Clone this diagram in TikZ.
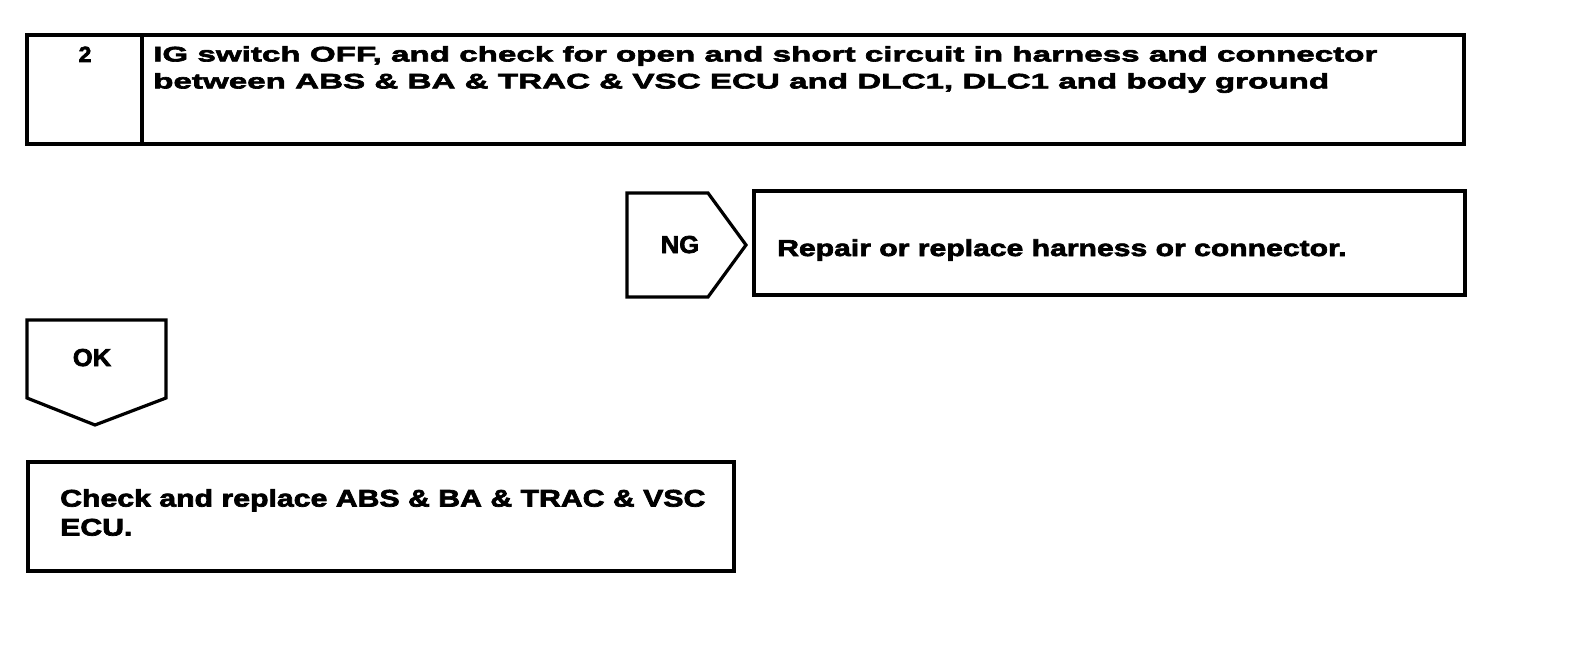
\documentclass[tikz,border=0pt]{standalone}
\usepackage{fontspec}
\newfontfamily\headfont{Liberation Sans}[FakeStretch=1.58, FakeBold=3]
\newfontfamily\repairfont{Liberation Sans}[FakeStretch=1.31, FakeBold=3]
\newfontfamily\ecufont{Liberation Sans}[FakeStretch=1.26, FakeBold=3]
\newfontfamily\flagfont{Liberation Sans}[FakeStretch=1.04, FakeBold=3]
\usetikzlibrary{positioning}

\begin{document}
\begin{tikzpicture}[x=1pt,y=-1pt]

\tikzset{
  cellbox/.style={draw=black, line width=3.2pt, inner sep=0pt, outer sep=0pt, anchor=north west},
  boxline/.style={black, line width=3.2pt, line join=miter},
  headtext/.style={font=\headfont\bfseries\fontsize{21}{27}\selectfont, align=left, inner sep=0pt},
  numtext/.style={font=\flagfont\bfseries\fontsize{22}{27}\selectfont, inner sep=0pt},
  repairtext/.style={font=\repairfont\bfseries\fontsize{23}{28}\selectfont, inner sep=0pt},
  ecutext/.style={font=\ecufont\bfseries\fontsize{24}{29}\selectfont, align=left, inner sep=0pt},
  flagtext/.style={font=\flagfont\bfseries\fontsize{24.5}{28}\selectfont, inner sep=0pt}
}

% Page
\path[fill=white, use as bounding box] (0,0) rectangle (1584,666);

% Step 2
\node[cellbox, minimum width=115pt, minimum height=109pt] (numcell) at (27,35) {};
\node[cellbox, minimum width=1322pt, minimum height=109pt] (stepcell) at (numcell.north east) {};
\node[numtext, anchor=base] (num) at (85,62) {2};
\node[headtext, anchor=north west] (steptext) at (153,46)
  {IG switch OFF, and check for open and short circuit in harness and connector\\
   between ABS \& BA \& TRAC \& VSC ECU and DLC1, DLC1 and body ground};

% NG branch
\draw[boxline] (627,193) -- (708,193) -- (746,245) -- (708,297) -- (627,297) -- cycle;
\node[flagtext, anchor=base] (ng) at (680,253) {NG};
\node[cellbox, minimum width=711pt, minimum height=104pt] (repairbox) at (754,191) {};
\node[repairtext, anchor=base west] (repair) at (777,256) {Repair or replace harness or connector.};

% OK branch
\draw[boxline] (27,320) -- (166,320) -- (166,398) -- (95,425) -- (27,398) -- cycle;
\node[flagtext, anchor=base] (ok) at (92,366) {OK};
\node[cellbox, minimum width=706pt, minimum height=109pt] (ecubox) at (28,462) {};
\node[ecutext, anchor=north west] (ecu) at (60,489)
  {Check and replace ABS \& BA \& TRAC \& VSC\\ECU.};

\end{tikzpicture}
\end{document}
